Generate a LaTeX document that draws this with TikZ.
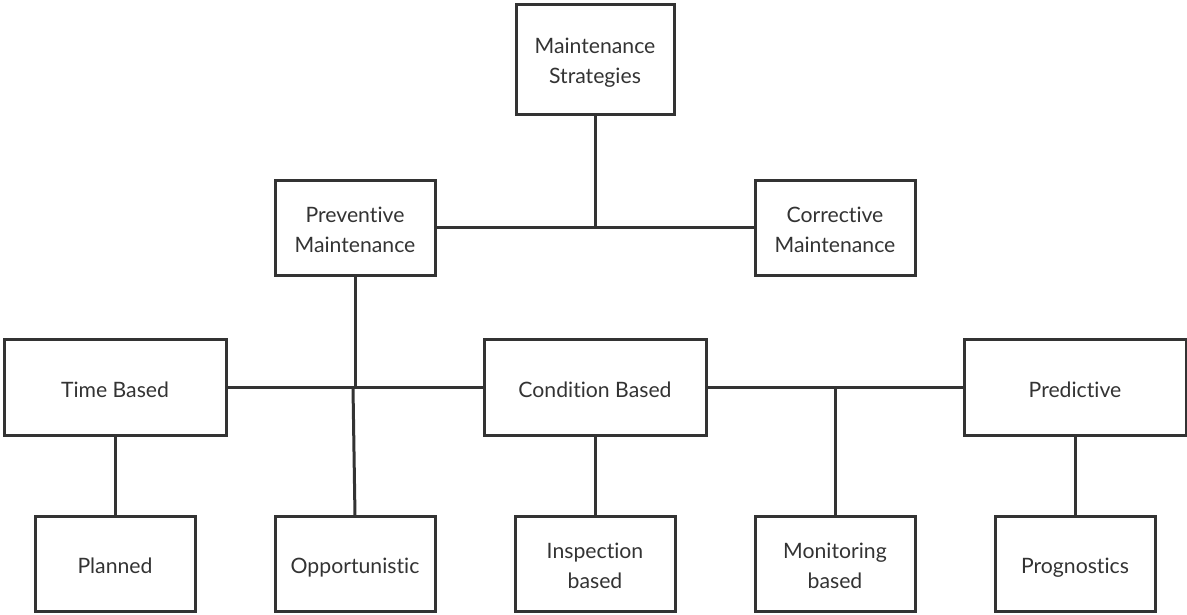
\documentclass[tikz,border=0pt]{standalone}
\usepackage{fontspec}
\setmainfont{Lato}[Ligatures=NoCommon]
\definecolor{ink}{HTML}{333333}
\newcommand{\lstrut}{\rule[-5.4pt]{0pt}{29.9pt}}
\begin{document}
\begin{tikzpicture}[x=1pt,y=-1pt,
  box/.style={draw=ink, line width=3pt, text=ink, align=center, inner sep=0pt, outer sep=0pt,
    font=\fontsize{21.2}{30}\selectfont, minimum width=160pt, minimum height=95pt},
  wide/.style={minimum width=222pt, minimum height=96pt},
  link/.style={draw=ink, line width=3pt}]
\useasboundingbox (0,0) rectangle (1187,614);
\node[box, minimum width=158pt, minimum height=110pt] (ms) at (595,59) {\lstrut Maintenance\\\lstrut Strategies};
\node[box] (pm) at (355,227.5) {\lstrut Preventive\\\lstrut Maintenance};
\node[box] (cm) at (835,227.5) {\lstrut Corrective\\\lstrut Maintenance};
\node[box, wide] (tb) at (115,387.5) {\lstrut Time Based};
\node[box, wide] (cb) at (595,387.5) {\lstrut Condition Based};
\node[box, wide] (pr) at (1075,387.5) {\lstrut Predictive};
\node[box] (pl) at (115,563.5) {\lstrut Planned};
\node[box] (op) at (355,563.5) {\lstrut Opportunistic};
\node[box] (in) at (595,563.5) {\lstrut Inspection\\\lstrut based};
\node[box] (mo) at (835,563.5) {\lstrut Monitoring\\\lstrut based};
\node[box] (pg) at (1075,563.5) {\lstrut Prognostics};
\coordinate (j1) at (595,227.5);
\coordinate (j2) at (355,387.5);
\coordinate (j3) at (353,387.5);
\coordinate (j4) at (835,387.5);
\draw[link] (ms.south) -- (j1);
\draw[link] (pm.east) -- (cm.west);
\draw[link] (pm.south) -- (j2);
\draw[link] (tb.east) -- (cb.west);
\draw[link] (j3) -- (op.north);
\draw[link] (cb.east) -- (pr.west);
\draw[link] (j4) -- (mo.north);
\draw[link] (cb.south) -- (in.north);
\draw[link] (tb.south) -- (pl.north);
\draw[link] (pr.south) -- (pg.north);
\end{tikzpicture}
\end{document}
